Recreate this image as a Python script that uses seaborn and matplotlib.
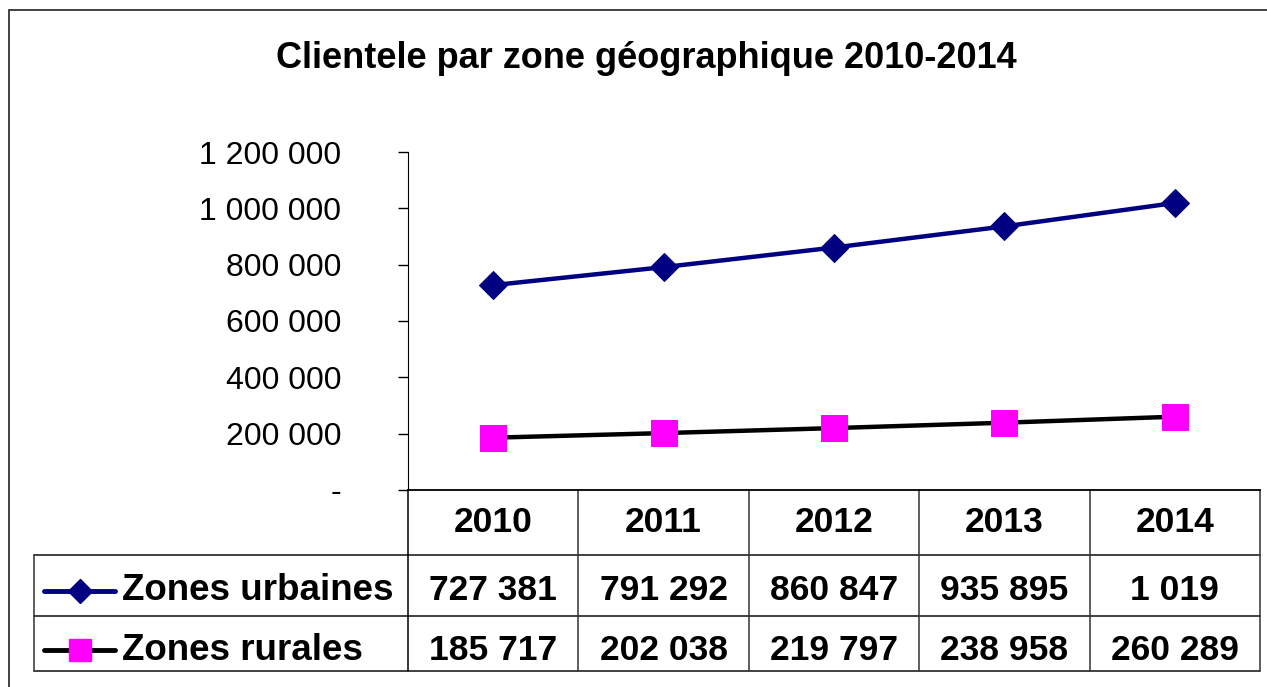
import numpy as np
import pandas as pd
import seaborn as sns
import matplotlib.pyplot as plt
import matplotlib.transforms as mtransforms
from matplotlib.lines import Line2D
from matplotlib.patches import Rectangle
from matplotlib.ticker import FuncFormatter

# data
years = [2010, 2011, 2012, 2013, 2014]
urbaines = [727381, 791292, 860847, 935895, 1019000]
rurales = [185717, 202038, 219797, 238958, 260289]
urbaines_txt = ['727 381', '791 292', '860 847', '935 895', '1 019']
rurales_txt = ['185 717', '202 038', '219 797', '238 958', '260 289']
series_names = ['Zones urbaines', 'Zones rurales']
title = 'Clientele par zone géographique 2010-2014'

sns.set_style('white')
plt.rcParams['font.family'] = ['Liberation Sans', 'DejaVu Sans']
plt.rcParams['text.color'] = 'black'
plt.rcParams['ytick.color'] = 'black'
plt.rcParams['ytick.labelcolor'] = 'black'

df = pd.DataFrame({'annee': years * 2,
                   'clients': urbaines + rurales,
                   'zone': [series_names[0]] * 5 + [series_names[1]] * 5})

W, H = 1267, 687
fig = plt.figure(figsize=(W / 100, H / 100), dpi=100)
ax = fig.add_axes([408 / W, 1 - 490 / H, (1260 - 408) / W, (490 - 152) / H])

urb = df[df.zone == series_names[0]]
rur = df[df.zone == series_names[1]]
sns.lineplot(data=urb, x='annee', y='clients', ax=ax, color='#000080', lw=3.2,
             marker='D', ms=14.5, mec='#000080', mfc='#000080', legend=False)
sns.lineplot(data=rur, x='annee', y='clients', ax=ax, color='black', lw=3.2,
             marker='s', ms=19, mec='#FF00FF', mfc='#FF00FF', legend=False)

ax.set_xlim(years[0] - 0.5, years[-1] + 0.5)
ax.set_ylim(0, 1200000)
ax.set_yticks(np.arange(0, 1200001, 200000))
ax.yaxis.set_major_formatter(FuncFormatter(
    lambda v, p: '-' if v == 0 else f'{int(v):,}'.replace(',', ' ')))
ax.tick_params(axis='y', direction='out', length=7.2, width=1, pad=41,
               labelsize=23, left=True, color='black', labelcolor='black')
ax.set_xticks([])
ax.set_xlabel('')
ax.set_ylabel('')
sns.despine(ax=ax, top=True, right=True)
ax.spines['left'].set_color('black')
ax.spines['bottom'].set_color('black')
ax.spines['bottom'].set_linewidth(1.3)

# data table under the plot
def ay(px):
    return (490 - px) / 338

def axx(px):
    return (px - 408) / 852

blend = mtransforms.blended_transform_factory(ax.transData, ax.transAxes)
tc = '#333333'
for yy in [555, 616, 671]:
    ax.add_line(Line2D([axx(34), 1.0], [ay(yy), ay(yy)], transform=ax.transAxes,
                       color=tc, lw=1.3, clip_on=False))
for xb in [years[0] - 0.5] + [y + 0.5 for y in years]:
    ax.add_line(Line2D([xb, xb], [0, ay(671)], transform=blend,
                       color='black' if xb == years[0] - 0.5 else tc, lw=1.1, clip_on=False))
ax.add_line(Line2D([axx(34), axx(34)], [ay(555), ay(671)], transform=ax.transAxes,
                   color=tc, lw=1.1, clip_on=False))

for i, y in enumerate(years):
    ax.text(y, ay(522), str(y), transform=blend, ha='center', va='center',
            fontsize=25.5, fontweight='bold')
    ax.text(y, ay(591), urbaines_txt[i], transform=blend, ha='center', va='center',
            fontsize=25.5, fontweight='bold')
    ax.text(y, ay(650), rurales_txt[i], transform=blend, ha='center', va='center',
            fontsize=25.5, fontweight='bold')

# legend keys inside the table
keys = [('#000080', 'D', '#000080', 12, ay(591)), ('black', 's', '#FF00FF', 16, ay(650))]
for (lc, mk, mc, ms, yk), name in zip(keys, series_names):
    ax.add_line(Line2D([axx(44), axx(115)], [yk, yk], transform=ax.transAxes,
                       color=lc, lw=3.5, solid_capstyle='round', clip_on=False))
    ax.add_line(Line2D([axx(80)], [yk], transform=ax.transAxes, marker=mk, ms=ms,
                       mfc=mc, mec=mc, ls='none', clip_on=False))
    ax.text(axx(122), yk, name, transform=ax.transAxes, ha='left', va='center',
            fontsize=26.5, fontweight='bold')

fig.text(646 / W, 1 - 58 / H, title, ha='center', va='center',
         fontsize=26, fontweight='bold')

# outer chart border
fig.add_artist(Rectangle((9 / W, -0.1), 1.2, 1 - 10 / H + 0.1, transform=fig.transFigure,
                         fill=False, ec='#333333', lw=1.3))

fig.savefig('out.png', dpi=100)
